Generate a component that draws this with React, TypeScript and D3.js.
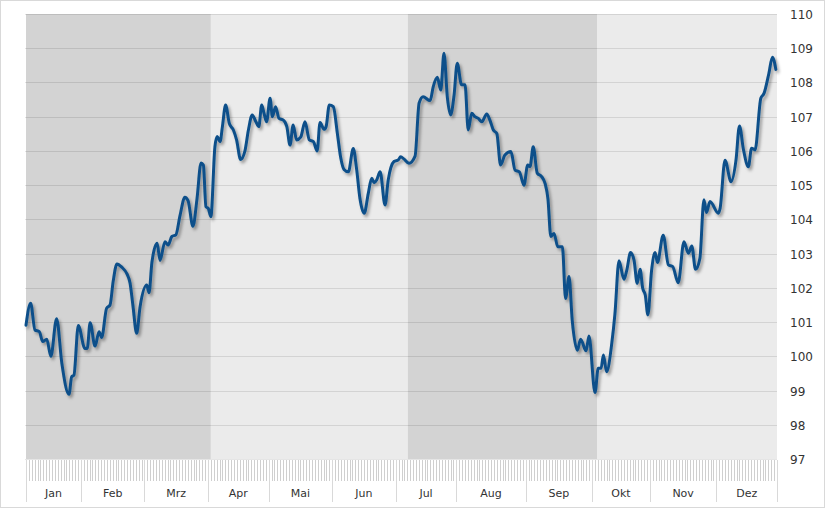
import React, { useEffect } from "react";
import * as d3 from "d3";

// Trading-day index (0..260) and index value
const days: number[] = [
  0, 1.6, 3.1, 4.6, 5.8, 7.2, 8.6, 10.6, 12.4, 14.9, 15.8, 16.6, 18.1, 20.4, 21.2, 22.2, 23.9, 25.3, 26.2, 27.9,
  29.1, 30.2, 31.5, 33.2, 35.0, 36.0, 37.0, 38.3, 39.5, 41.8, 42.6, 43.6, 45.4, 46.4, 48.1, 49.2, 50.5, 51.9, 53.3, 55.0,
  56.1, 57.8, 59.2, 60.6, 61.4, 62.3, 63.1, 64.0, 65.4, 66.2, 67.2, 68.0, 69.1, 70.4, 71.8, 72.9, 74.3, 75.8, 77.0, 78.3,
  79.6, 80.6, 81.6, 82.4, 83.3, 84.5, 85.3, 86.4, 87.6, 89.1, 90.3, 91.4, 92.5, 93.7, 95.1, 96.6, 98.1, 99.5, 100.8, 101.8,
  103.2, 103.9, 105.0, 106.4, 107.8, 108.9, 110.1, 111.6, 113.3, 114.5, 115.6, 117.1, 118.5, 119.7, 120.5, 121.4, 122.6, 124.3, 125.4, 127.4,
  128.9, 129.7, 130.9, 132.6, 134.7, 136.1, 137.5, 139.9, 141.0, 142.4, 143.6, 144.7, 145.9, 147.0, 148.2, 149.3, 150.8, 152.0, 153.1, 154.3,
  155.4, 156.6, 157.8, 159.5, 160.6, 161.8, 163.0, 164.3, 165.8, 167.9, 169.3, 170.8, 172.4, 173.7, 174.5, 175.6, 177.0, 178.5, 179.7, 180.7,
  181.7, 182.8, 184.1, 185.7, 186.8, 188.0, 189.1, 190.9, 192.0, 193.9, 194.9, 197.0, 198.1, 199.1, 199.9, 201.0, 202.8, 203.9, 205.3, 207.0,
  208.0, 209.3, 210.5, 211.6, 212.6, 213.5, 214.4, 215.3, 216.6, 217.8, 218.6, 220.6, 222.4, 223.9, 225.8, 227.8, 229.3, 230.5, 231.8, 233.3,
  234.7, 235.6, 236.8, 239.7, 240.3, 242.0, 244.1, 245.8, 247.0, 248.4, 250.1, 251.2, 252.4, 254.4, 255.5, 257.2, 258.4, 259.6,
];
const values: number[] = [
  100.91, 101.55, 100.77, 100.72, 100.43, 100.5, 100.0, 101.1, 99.8, 98.89, 99.4, 99.45, 100.9, 100.23, 100.23, 100.98, 100.3, 100.72, 100.55, 101.4,
  101.5, 102.2, 102.7, 102.6, 102.4, 102.15, 101.5, 100.67, 101.45, 102.08, 101.86, 102.75, 103.3, 102.8, 103.35, 103.25, 103.5, 103.55, 104.1, 104.65,
  104.55, 103.8, 104.6, 105.65, 105.59, 104.37, 104.32, 104.08, 106.12, 106.42, 106.27, 106.71, 107.34, 106.8, 106.61, 106.32, 105.75, 106.0, 106.61, 107.05,
  106.85, 106.71, 107.34, 107.1, 106.85, 107.54, 107.0, 107.29, 106.95, 106.9, 106.71, 106.17, 106.76, 106.32, 106.4, 106.85, 106.32, 106.27, 106.0, 106.83,
  106.63, 106.71, 107.34, 107.29, 106.51, 105.83, 105.46, 105.39, 106.07, 105.44, 104.62, 104.18, 104.76, 105.2, 105.07, 105.15, 105.39, 104.42, 105.15, 105.69,
  105.74, 105.83, 105.76, 105.64, 105.85, 107.4, 107.58, 107.47, 107.88, 108.15, 107.78, 108.85, 107.54, 107.05, 107.63, 108.56, 107.93, 107.93, 106.61, 107.1,
  107.0, 106.95, 106.85, 107.08, 106.9, 106.61, 106.51, 105.59, 105.88, 105.98, 105.44, 105.39, 105.0, 105.59, 105.54, 106.12, 105.35, 105.25, 105.05, 104.6,
  103.5, 103.59, 103.2, 103.2, 101.69, 102.33, 101.06, 100.18, 100.5, 100.16, 100.59, 98.94, 99.65, 99.65, 100.04, 99.55, 100.38, 101.25, 102.79, 102.25,
  102.52, 103.03, 102.81, 102.13, 102.54, 101.99, 101.79, 101.21, 102.52, 103.03, 102.74, 103.54, 102.67, 102.62, 102.15, 103.35, 103.01, 103.22, 102.54, 102.86,
  104.57, 104.2, 104.52, 104.18, 104.32, 105.73, 105.1, 105.73, 106.73, 106.03, 105.54, 106.08, 106.03, 107.54, 107.68, 108.27, 108.74, 108.38,
];

const monthLabels: string[] = ["Jan", "Feb", "Mrz", "Apr", "Mai", "Jun", "Jul", "Aug", "Sep", "Okt", "Nov", "Dez"];
const monthStarts: number[] = [0, 19, 41, 63, 84, 106, 128, 149, 173, 196, 216, 239, 260];
const quarterStarts: number[] = [0, 64, 132.2, 197.7, 260];
const yTicks: number[] = [97, 98, 99, 100, 101, 102, 103, 104, 105, 106, 107, 108, 109, 110];
const totalDays = 260;

const W = 825;
const H = 508;
const M = { left: 26, right: 777, top: 14, bottom: 459 };

export default function App() {
  useEffect(() => {
    document.body.style.margin = "0";
  }, []);

  const x = d3.scaleLinear().domain([0, totalDays]).range([M.left, M.right]);
  const y = d3.scaleLinear().domain([97, 110]).range([M.bottom, M.top]);
  const pts: [number, number][] = days.map((d, i) => [d, values[i]]);
  const line = d3
    .line<[number, number]>()
    .x((d) => x(d[0]))
    .y((d) => y(d[1]))
    .curve(d3.curveMonotoneX);

  const dayTicks = d3.range(0, totalDays + 1, 1);
  const font = "'DejaVu Sans', Verdana, sans-serif";

  return (
    <svg width={W} height={H} style={{ display: "block", position: "absolute", left: 0, top: 0 }}>
      <defs>
        <filter id="shadow" x="-5%" y="-5%" width="110%" height="115%">
          <feDropShadow dx="2" dy="2.5" stdDeviation="1.5" floodColor="#000" floodOpacity="0.35" />
        </filter>
      </defs>
      <rect x={0.5} y={0.5} width={W - 1} height={H - 1} fill="#fff" stroke="#d9d9d9" />
      {quarterStarts.slice(0, -1).map((q, i) => (
        <rect
          key={"q" + i}
          x={x(q)}
          y={M.top}
          width={x(quarterStarts[i + 1]) - x(q)}
          height={M.bottom - M.top}
          fill={i % 2 === 0 ? "#d3d3d3" : "#ebebeb"}
        />
      ))}
      {yTicks.map((t) => (
        <line
          key={"g" + t}
          x1={M.left - 1}
          x2={M.right}
          y1={Math.round(y(t)) + 0.5}
          y2={Math.round(y(t)) + 0.5}
          stroke="#000"
          strokeOpacity={0.1}
        />
      ))}
      {dayTicks.map((d) => (
        <line
          key={"d" + d}
          x1={Math.round(x(d)) + 0.5}
          x2={Math.round(x(d)) + 0.5}
          y1={M.bottom + 1}
          y2={481}
          stroke="#cfcfcf"
        />
      ))}
      {monthStarts.map((m) => (
        <line
          key={"m" + m}
          x1={Math.round(x(m)) + 0.5}
          x2={Math.round(x(m)) + 0.5}
          y1={M.bottom + 1}
          y2={502}
          stroke="#d9d9d9"
        />
      ))}
      {monthLabels.map((lab, i) => (
        <text
          key={lab}
          x={(x(monthStarts[i]) + x(monthStarts[i + 1])) / 2}
          y={493}
          textAnchor="middle"
          dominantBaseline="central"
          fontFamily={font}
          fontSize={11}
          fill="#333"
        >
          {lab}
        </text>
      ))}
      {yTicks.map((t) => (
        <text
          key={"yl" + t}
          x={790}
          y={y(t) + 1}
          dominantBaseline="central"
          fontFamily={font}
          fontSize={12}
          fill="#333"
        >
          {t}
        </text>
      ))}
      <path
        d={line(pts) || ""}
        fill="none"
        stroke="#0b4f8a"
        strokeWidth={3}
        strokeLinejoin="round"
        strokeLinecap="round"
        filter="url(#shadow)"
      />
    </svg>
  );
}
